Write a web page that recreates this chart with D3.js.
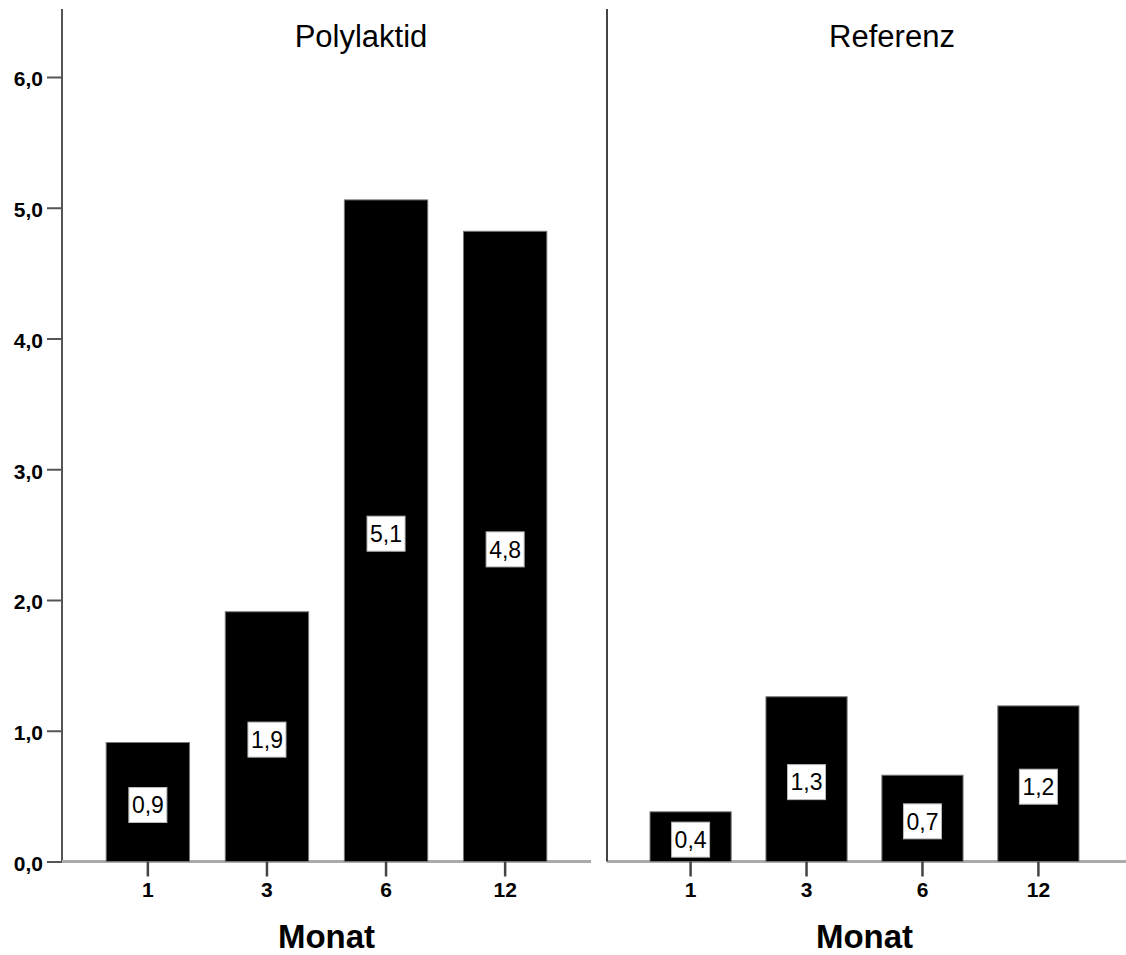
<!DOCTYPE html>
<html>
<head>
<meta charset="utf-8">
<script src="https://cdn.jsdelivr.net/npm/d3@7"></script>
<style>
  html, body { margin: 0; padding: 0; background: #fff; }
  svg { display: block; }
</style>
</head>
<body>
<script>
// Monate nach der Implantation
const months = ["1", "3", "6", "12"];
const groups = ["Polylaktid", "Referenz"];
const polylaktidValues = [0.91, 1.91, 5.06, 4.82];
const referenzValues = [0.38, 1.26, 0.66, 1.19];
const yTicks = [0, 1, 2, 3, 4, 5, 6];

const width = 1126, height = 955;
const de = d3.formatLocale({ decimal: ",", thousands: ".", grouping: [3], currency: ["", " €"] });
const fmt = de.format(".1f");
const font = "'Liberation Sans', Arial, sans-serif";

const svg = d3.select("body").append("svg")
  .attr("width", width).attr("height", height);

const y = d3.scaleLinear().domain([0, 6.52]).range([861.5, 9]);

const panels = [
  { name: groups[0], values: polylaktidValues, x0: 62, x1: 591, lineEnd: 591, titleX: 361 },
  { name: groups[1], values: referenzValues, x0: 607, x1: 1122, lineEnd: 1126, titleX: 892 }
];

// Y-Achse links
const yAxis = svg.append("g")
  .attr("transform", "translate(62,0)")
  .call(d3.axisLeft(y).tickValues(yTicks).tickFormat(fmt).tickSize(15).tickPadding(4));
yAxis.select(".domain").remove();
yAxis.selectAll(".tick line").attr("stroke", "#555").attr("stroke-width", 2);
yAxis.selectAll(".tick text")
  .attr("font-family", font)
  .attr("font-weight", "bold").attr("font-size", 21).attr("fill", "#000")
  .attr("dy", "0.42em");

svg.append("line")
  .attr("x1", 62).attr("x2", 62).attr("y1", 9).attr("y2", y(0))
  .attr("stroke", "#555").attr("stroke-width", 2);

panels.forEach((p, i) => {
  const x = d3.scaleBand().domain(months).range([p.x0, p.x1])
    .paddingInner(0.3).paddingOuter(0.371);
  const g = svg.append("g");

  // Grundlinie
  g.append("line")
    .attr("x1", p.x0).attr("x2", p.lineEnd)
    .attr("y1", y(0)).attr("y2", y(0))
    .attr("stroke", "#aaa").attr("stroke-width", 3);

  // Trennlinie zwischen den Feldern
  if (i > 0) {
    g.append("line")
      .attr("x1", p.x0).attr("x2", p.x0).attr("y1", 9).attr("y2", y(0))
      .attr("stroke", "#444").attr("stroke-width", 2);
  }

  // Balken
  g.selectAll("rect.bar").data(p.values).enter().append("rect")
    .attr("class", "bar")
    .attr("x", (d, j) => x(months[j]))
    .attr("width", x.bandwidth())
    .attr("y", d => y(d))
    .attr("height", d => y(0) - y(d))
    .attr("fill", "#000")
    .attr("stroke", "#777").attr("stroke-width", 1);

  // Wertbeschriftungen
  const lab = g.selectAll("g.lab").data(p.values).enter().append("g")
    .attr("class", "lab")
    .attr("transform", (d, j) => `translate(${x(months[j]) + x.bandwidth() / 2},${(y(d) + y(0)) / 2 + 3})`);
  lab.append("rect")
    .attr("x", -19).attr("y", -17.5).attr("width", 38).attr("height", 35)
    .attr("fill", "#fff").attr("stroke", "#bbb").attr("stroke-width", 1);
  lab.append("text")
    .attr("text-anchor", "middle").attr("dy", "0.36em")
    .attr("font-family", font)
    .attr("font-size", 23).attr("fill", "#000")
    .text(d => fmt(d));

  // X-Achse
  const xAxis = g.append("g")
    .attr("transform", `translate(0,${y(0)})`)
    .call(d3.axisBottom(x).tickSize(15).tickPadding(6));
  xAxis.select(".domain").remove();
  xAxis.selectAll(".tick line").attr("stroke", "#444").attr("stroke-width", 2.5);
  xAxis.selectAll(".tick text")
    .attr("font-family", font)
    .attr("font-weight", "bold").attr("font-size", 21).attr("fill", "#000");

  // Feldtitel
  g.append("text")
    .attr("x", p.titleX).attr("y", 47)
    .attr("text-anchor", "middle")
    .attr("font-family", font)
    .attr("font-size", 31).attr("fill", "#000")
    .text(p.name);

  // Achsentitel
  g.append("text")
    .attr("x", (p.x0 + p.x1) / 2).attr("y", 948)
    .attr("text-anchor", "middle")
    .attr("font-family", font)
    .attr("font-weight", "bold").attr("font-size", 33).attr("fill", "#000")
    .text("Monat");
});
</script>
</body>
</html>
